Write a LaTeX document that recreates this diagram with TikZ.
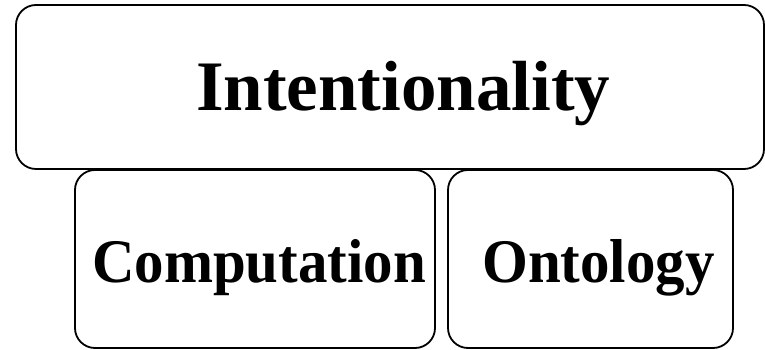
\documentclass[tikz,border=0pt]{standalone}
\usepackage{fontspec}
\usepackage{graphicx}
\setmainfont{Liberation Serif}
\tikzset{
  box/.style={draw=black, line width=1.8pt, rounded corners=20pt, fill=white},
  bigtext/.style={inner sep=0pt, font=\bfseries\fontsize{71}{80}\selectfont},
  smalltext/.style={inner sep=0pt, font=\bfseries\fontsize{62}{70}\selectfont},
}
\begin{document}
\begin{tikzpicture}[x=1pt,y=1pt]
\useasboundingbox (0,0) rectangle (765,350);
% bottom boxes
\draw[box] (75,180) rectangle (435,2);
\draw[box] (448,180) rectangle (733,2);
% top box
\draw[box] (16,345) rectangle (764,181);
% texts
\node[bigtext, anchor=base west] (int) at (196,239) {Intentionality};
\node[smalltext, anchor=base west] (comp) at (92,67) {\scalebox{0.95}[1]{Computation}};
\node[smalltext, anchor=base west] (onto) at (482,67) {\scalebox{0.95}[1]{Ontology}};
\end{tikzpicture}
\end{document}
